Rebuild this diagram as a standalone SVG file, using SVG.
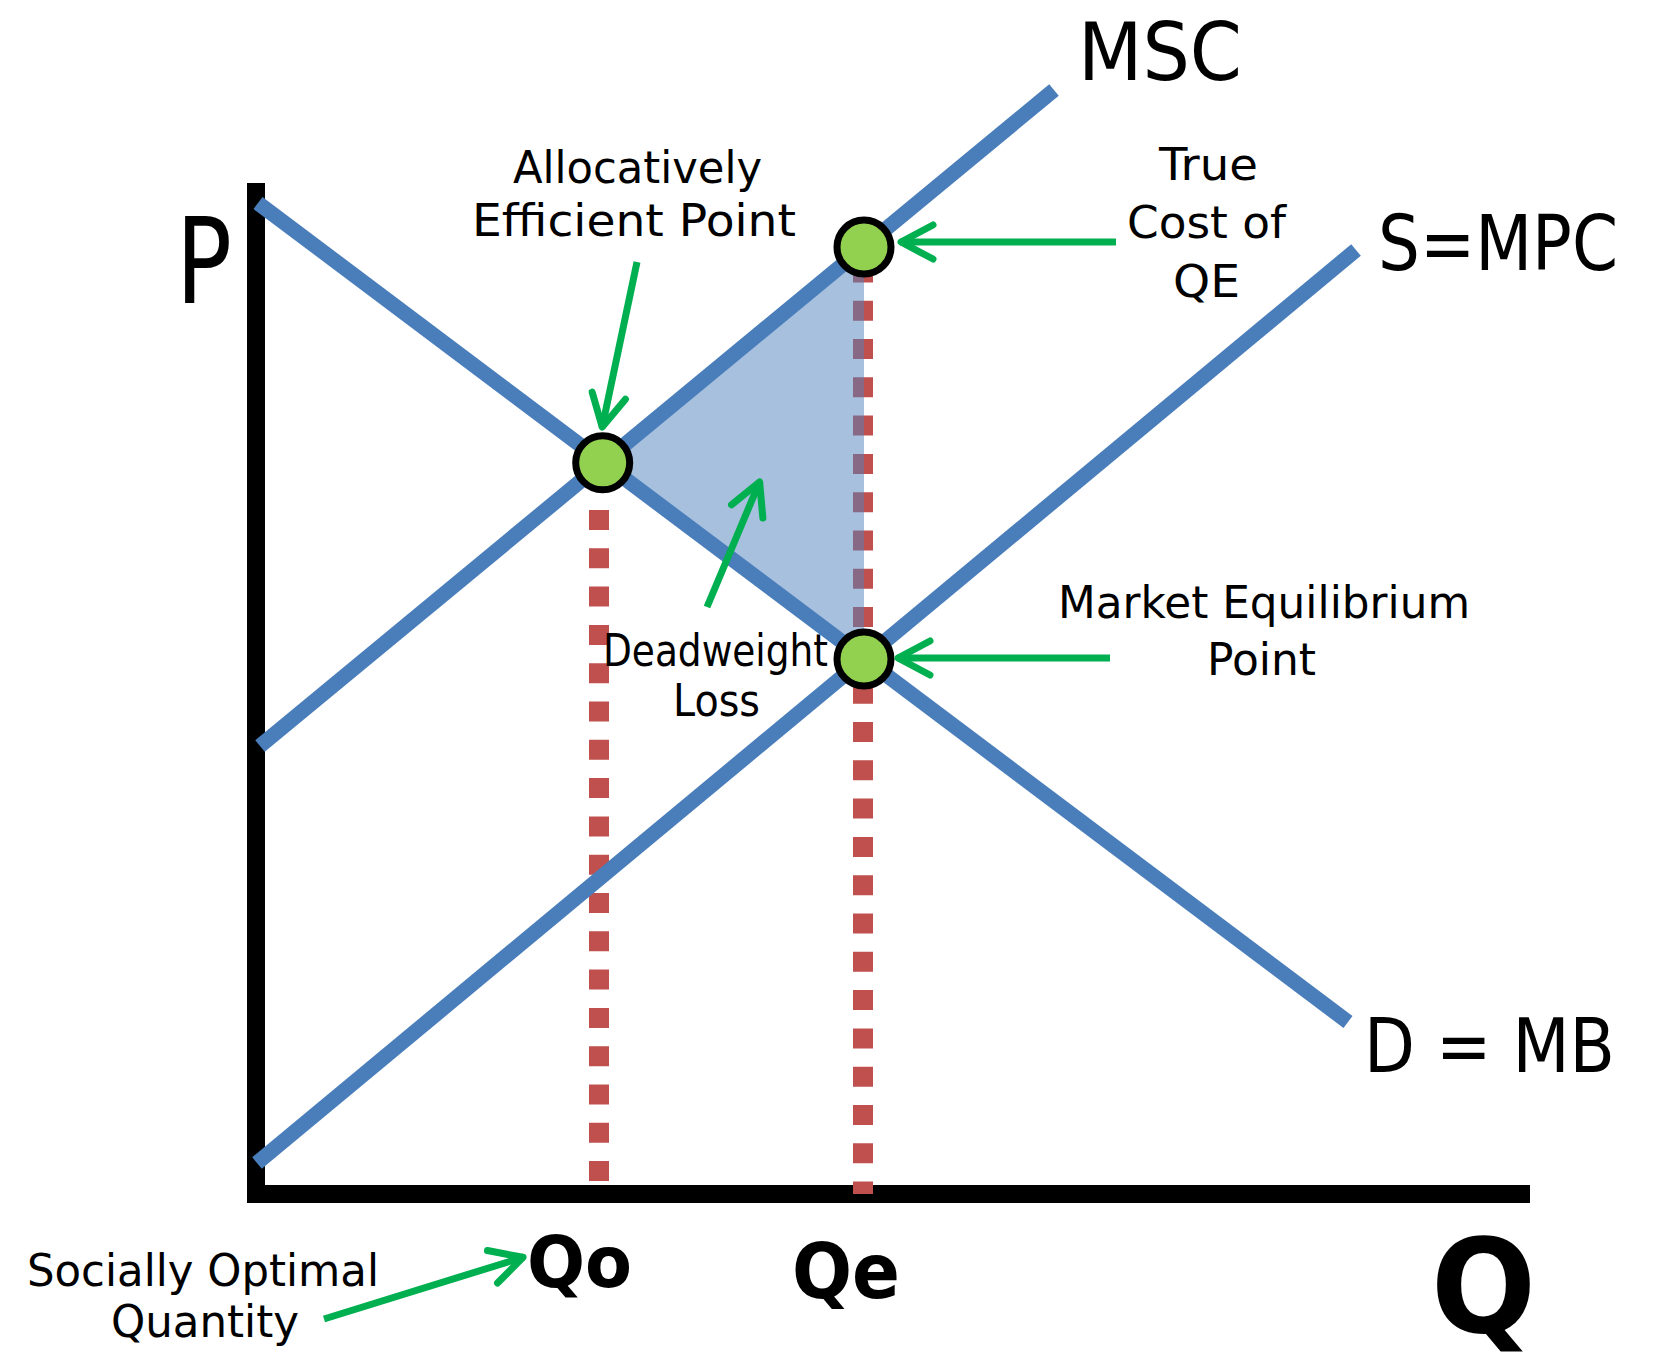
<svg xmlns="http://www.w3.org/2000/svg" width="1664" height="1362" viewBox="0 0 1664 1362">
<defs>
<style>
.axis{stroke:#000;stroke-width:18;fill:none}
.curve{stroke:#4A7EBB;stroke-width:15;fill:none;stroke-linecap:butt}
.dash{stroke:#C0504D;stroke-width:20;fill:none;stroke-dasharray:20 18.3}
.pt{fill:#92D050;stroke:#000;stroke-width:7}
.arr{stroke:#00B050;stroke-width:7;fill:none;marker-end:url(#head)}
.lbl{font-family:"DejaVu Sans",sans-serif;fill:#000;text-anchor:middle;font-size:45px}
.big{font-family:"DejaVu Sans",sans-serif;fill:#000;text-anchor:start}
.bold{font-family:"DejaVu Sans",sans-serif;fill:#000;text-anchor:start;font-weight:bold}
</style>
<marker id="head" markerUnits="userSpaceOnUse" markerWidth="50" markerHeight="50" viewBox="-40 -25 50 50" refX="0" refY="0" orient="auto">
<path d="M -33 -17 L -1 0 L -33 17" stroke="#00B050" stroke-width="7" fill="none" stroke-linecap="round" stroke-linejoin="round"/>
</marker>
</defs>
<rect width="1664" height="1362" fill="#fff"/>

<g id="axes">
<line class="axis" x1="256" y1="183" x2="256" y2="1203"/>
<line class="axis" x1="247" y1="1194" x2="1530" y2="1194"/>
</g>

<g id="quantity-lines">
<line class="dash" x1="599" y1="510" x2="599" y2="1194"/>
<line class="dash" x1="863" y1="262.4" x2="863" y2="1194"/>
</g>

<g id="deadweight-loss">
<polygon points="602.7,462.8 864,247 864,659" fill="#4F81BD" fill-opacity="0.5"/>
</g>

<g id="curves">
<line id="demand" class="curve" x1="258" y1="203" x2="1348" y2="1022"/>
<line id="msc" class="curve" x1="260" y1="746" x2="1054" y2="90"/>
<line id="mpc" class="curve" x1="257" y1="1163" x2="1356" y2="250"/>
</g>

<g id="points">
<circle id="efficient-point" class="pt" cx="602.7" cy="462.8" r="27"/>
<circle id="true-cost-point" class="pt" cx="864" cy="247" r="27"/>
<circle id="equilibrium-point" class="pt" cx="864" cy="659" r="27"/>
</g>

<g id="connectors">
<line class="arr" x1="637" y1="262" x2="602" y2="428"/>
<line class="arr" x1="1116" y1="242" x2="900" y2="242"/>
<line class="arr" x1="1110" y1="658" x2="897" y2="658"/>
<line class="arr" x1="707" y1="607" x2="760" y2="481"/>
<line class="arr" x1="324" y1="1319" x2="524" y2="1257"/>
</g>

<g id="labels">
<text class="big" x="176" y="303" font-size="120" textLength="56" lengthAdjust="spacingAndGlyphs">P</text>
<text class="big" x="1078" y="80" font-size="80" textLength="164" lengthAdjust="spacingAndGlyphs">MSC</text>
<text class="big" x="1378" y="270" font-size="76" textLength="240" lengthAdjust="spacingAndGlyphs">S=MPC</text>
<text class="big" x="1364" y="1072" font-size="74" textLength="251" lengthAdjust="spacingAndGlyphs">D = MB</text>
<text class="bold" x="1431" y="1332" font-size="130" textLength="105" lengthAdjust="spacingAndGlyphs">Q</text>
<text class="bold" x="527" y="1287" font-size="72" textLength="105" lengthAdjust="spacingAndGlyphs">Qo</text>
<text class="bold" x="792" y="1298" font-size="76" textLength="108" lengthAdjust="spacingAndGlyphs">Qe</text>
<text class="lbl" x="637.5" y="183" textLength="249" lengthAdjust="spacingAndGlyphs">Allocatively</text>
<text class="lbl" x="634" y="236" textLength="324" lengthAdjust="spacingAndGlyphs">Efficient Point</text>
<text class="lbl" x="1208.5" y="180" textLength="99" lengthAdjust="spacingAndGlyphs">True</text>
<text class="lbl" x="1206.5" y="238" textLength="159" lengthAdjust="spacingAndGlyphs">Cost of</text>
<text class="lbl" x="1206.5" y="297" textLength="67" lengthAdjust="spacingAndGlyphs">QE</text>
<text class="lbl" x="1264" y="618" textLength="412" lengthAdjust="spacingAndGlyphs">Market Equilibrium</text>
<text class="lbl" x="1261.5" y="675" textLength="109" lengthAdjust="spacingAndGlyphs">Point</text>
<text class="lbl" x="715.5" y="666" textLength="225" lengthAdjust="spacingAndGlyphs">Deadweight</text>
<text class="lbl" x="716.5" y="716" textLength="87" lengthAdjust="spacingAndGlyphs">Loss</text>
<text class="lbl" x="203" y="1286" textLength="352" lengthAdjust="spacingAndGlyphs">Socially Optimal</text>
<text class="lbl" x="205" y="1337" textLength="188" lengthAdjust="spacingAndGlyphs">Quantity</text>
</g>
</svg>
